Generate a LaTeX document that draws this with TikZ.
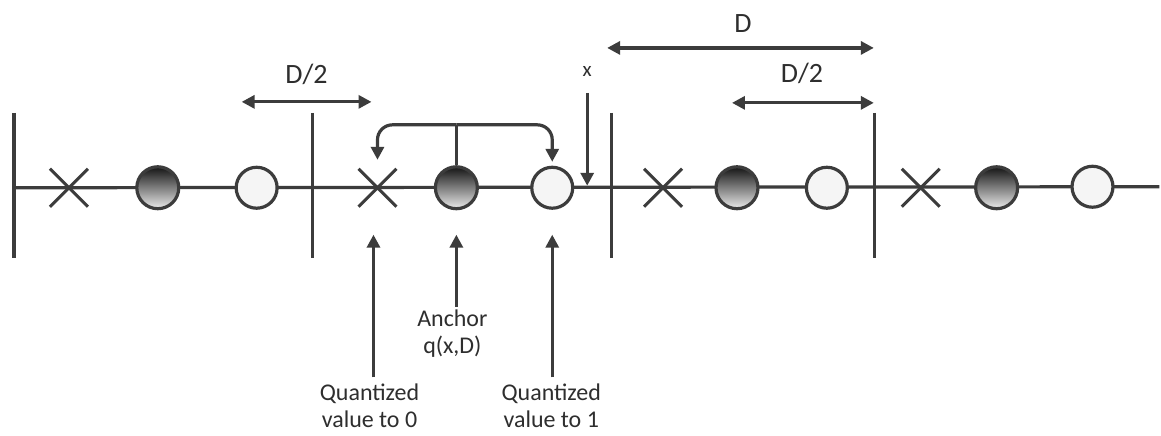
\documentclass[tikz,border=0pt]{standalone}
\usepackage{fontspec}
\setmainfont{Carlito}
\usetikzlibrary{arrows.meta,shapes.misc}
\definecolor{ln}{HTML}{3c3c3c}
\definecolor{tx}{HTML}{2e2e2e}
\begin{document}
\begin{tikzpicture}[x=1pt,y=-1pt,
  ln/.style={draw=ln, line width=3.2pt},
  arr/.style={ln, -{Triangle[length=13pt,width=13pt]}},
  darr/.style={ln, {Triangle[length=13pt,width=13pt]}-{Triangle[length=13pt,width=13pt]}},
  dark/.style={circle, draw=ln, line width=3.2pt, minimum size=42pt, inner sep=0pt, top color=black!92, bottom color=black!8},
  light/.style={circle, draw=ln, line width=3.2pt, minimum size=41pt, inner sep=0pt, fill=black!4},
  xmark/.style={cross out, draw=ln, line width=3pt, minimum size=35pt, inner sep=0pt},
  lbl/.style={font=\fontsize{24}{27}\selectfont, text=tx, align=center, inner sep=0pt},
  big/.style={font=\fontsize{28}{30}\selectfont, text=tx, inner sep=0pt}]
\fill[white] (0,0) rectangle (1161,436);
% main line
\coordinate (L0) at (14,188);
\coordinate (L1) at (1161,187);
\draw[ln] (L0) -- (L1);
% bars
\foreach \n/\x in {b1/14, b2/313, b3/612, b4/876}{
  \coordinate (\n t) at (\x,113);
  \coordinate (\n b) at (\x,258);
  \draw[ln] (\n t) -- (\n b);
}
% marks
\node[xmark] (x1) at (69,188) {};
\node[dark]  (d1) at (158,188) {};
\node[light] (w1) at (257,188) {};
\node[xmark] (x2) at (378,188) {};
\node[dark]  (d2) at (457,188) {};
\node[light] (w2) at (553,188) {};
\node[xmark] (x3) at (664,188) {};
\node[dark]  (d3) at (738,188) {};
\node[light] (w3) at (828,188) {};
\node[xmark] (x4) at (922,188) {};
\node[dark]  (d4) at (998,188) {};
\node[light] (w4) at (1094,187) {};
% dimension arrows
\coordinate (dA1) at (242,102); \coordinate (dA2) at (372,102);
\draw[darr] (dA1) -- (dA2);
\node[big] (dh1) at (307,74) {D/2};
\coordinate (dB1) at (608,48); \coordinate (dB2) at (875,48);
\draw[darr] (dB1) -- (dB2);
\node[big] (dd) at (744,24) {D};
\coordinate (dC1) at (733,103); \coordinate (dC2) at (875,103);
\draw[darr] (dC1) -- (dC2);
\node[big] (dh2) at (803,73) {D/2};
% x arrow
\node[lbl, font=\fontsize{21}{22}\selectfont] (xl) at (588,72) {x};
\coordinate (xt) at (588,186);
\draw[arr] (588,93) -- (xt);
% branch arrows from anchor
\coordinate (br) at (457,125);
\coordinate (t0) at (378,160);
\coordinate (t1) at (553,162);
\draw[ln] (d2.north) -- (br);
\draw[arr, rounded corners=15pt] (br) -- (378,125) -- (t0);
\draw[arr, rounded corners=15pt] (br) -- (553,125) -- (t1);
% bottom labels and arrows
\node[lbl] (qa) at (453,334) {Anchor\\q(x,D)};
\node[lbl, anchor=north] (q0) at (370,384) {Quantized\\value to 0};
\node[lbl, anchor=north] (q1) at (552,384) {Quantized\\value to 1};
\coordinate (u0) at (374,235);
\coordinate (ua) at (457,235);
\coordinate (u1) at (553,235);
\draw[arr] (374,378) -- (u0);
\draw[arr] (457,307) -- (ua);
\draw[arr] (553,378) -- (u1);
\end{tikzpicture}
\end{document}
